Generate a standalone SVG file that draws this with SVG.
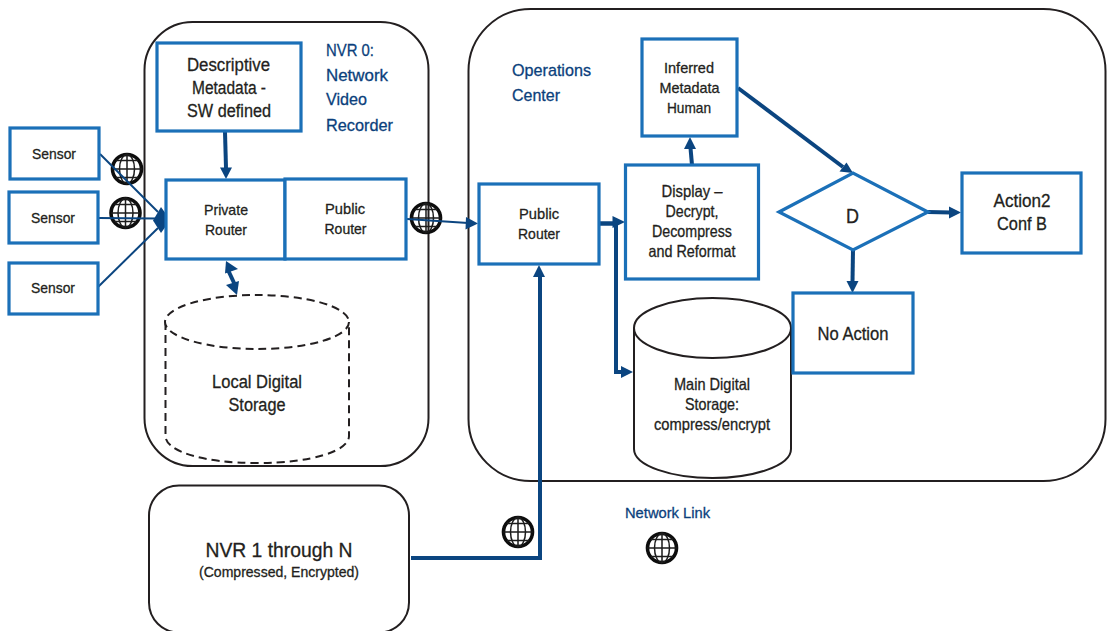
<svg xmlns="http://www.w3.org/2000/svg" xmlns:xlink="http://www.w3.org/1999/xlink" width="1110" height="631" viewBox="0 0 1110 631">
<style>
text{font-family:"Liberation Sans",Arial,sans-serif;fill:#231f20;text-anchor:middle;stroke:#231f20;stroke-width:0.3}
.s14{font-size:15px}.s16{font-size:16.5px}.s18{font-size:18px}
.hd{fill:#0b3f7c;stroke:#0b3f7c;text-anchor:start;font-size:17px}
.nl{fill:#0b3f7c;stroke:#0b3f7c;font-size:15px}
.box{fill:#fff;stroke:#1b70b8;stroke-width:3.2}
.cont{fill:#fff;stroke:#231f20;stroke-width:2}
.cyl{fill:#fff;stroke:#231f20;stroke-width:2}
.dash{fill:#fff;stroke:#231f20;stroke-width:2;stroke-dasharray:8 5}
.c{fill:none;stroke:#0b4580}
.a{fill:#0b4580;stroke:none}
.g{fill:none;stroke:#1c1c1c;stroke-width:1.5}
.gr{fill:none;stroke:#111;stroke-width:3.6}
</style>
<defs>
<filter id="bl" x="-20%" y="-20%" width="140%" height="140%"><feGaussianBlur stdDeviation="0.55"/></filter>
<g id="globe" filter="url(#bl)">
<circle r="14.500" class="gr"/>
<ellipse rx="7.500" ry="14.500" class="g"/>
<path class="g" d="M0-14.500V14.500M-14.500 0H14.500M-11-8.500H11M-11 8.500H11"/>
</g>
</defs>

<g id="nvr0-container"><rect class="cont" x="144.500" y="22" width="284" height="444" rx="48"/></g>
<g id="ops-container"><rect class="cont" x="468.500" y="9" width="637" height="472" rx="62"/></g>

<g id="globes">
<use xlink:href="#globe" href="#globe" transform="translate(127,169)"/>
<use xlink:href="#globe" href="#globe" transform="translate(125.500,213)"/>
<use xlink:href="#globe" href="#globe" transform="translate(426,218)"/>
<use xlink:href="#globe" href="#globe" transform="translate(518,532)"/>
<use xlink:href="#globe" href="#globe" transform="translate(662,548)"/>
</g>

<g id="connectors">
<path class="c" stroke-width="2" d="M100 154L158 212"/>
<path class="c" stroke-width="2" d="M99 218L156 218.500"/>
<path class="c" stroke-width="2" d="M98 287L158 228"/>
<path class="a" d="M161 207L166 214V226L161 233L153 220.500Z"/>
<path class="c" stroke-width="4" d="M225 132L226 168"/>
<path class="a" d="M226 179L220 167.500H232Z"/>
<path class="c" stroke-width="4" d="M228.500 271L235 285"/>
<path class="a" d="M226 261L238 269L225 273.500Z"/>
<path class="a" d="M237 295L226 285L239 281Z"/>
<path class="c" stroke-width="2" d="M407 219L468 223"/>
<path class="a" d="M478 223.500L465.500 229.500L466 217Z"/>
<path class="c" stroke-width="4" d="M411 558H540V276"/>
<path class="a" d="M539 265L545 277H533Z"/>
<path class="c" stroke-width="4.500" d="M600 223.500H615"/>
<path class="a" d="M625 222L612.500 228V216Z"/>
<path class="c" stroke-width="4" d="M616 224V372H623"/>
<path class="a" d="M633 372L621 378V366Z"/>
<path class="c" stroke-width="4" d="M692 165L690.500 148"/>
<path class="a" d="M690 137L696 149H684Z"/>
<path class="c" stroke-width="4" d="M738 88L843 167"/>
<path class="a" d="M853 173L839.500 171.500L846.500 162.500Z"/>
<path class="c" stroke-width="4" d="M928 212L951 212.500"/>
<path class="a" d="M961 212.500L949 218.500V206.500Z"/>
<path class="c" stroke-width="4" d="M853 250L852.500 282"/>
<path class="a" d="M852.500 293L846.500 281H858.500Z"/>
</g>

<g id="sensor-1"><rect class="box" x="10" y="128" width="89" height="51"/><text class="s14" x="54" y="159" textLength="44" lengthAdjust="spacingAndGlyphs">Sensor</text></g>
<g id="sensor-2"><rect class="box" x="9" y="192" width="89" height="51"/><text class="s14" x="53" y="223" textLength="44" lengthAdjust="spacingAndGlyphs">Sensor</text></g>
<g id="sensor-3"><rect class="box" x="9" y="263" width="89" height="51"/><text class="s14" x="53" y="293" textLength="44" lengthAdjust="spacingAndGlyphs">Sensor</text></g>

<g id="descriptive-metadata"><rect class="box" x="157" y="43" width="144" height="88"/>
<text class="s18" x="228.500" y="71" textLength="83" lengthAdjust="spacingAndGlyphs">Descriptive</text>
<text class="s18" x="229" y="94" textLength="74" lengthAdjust="spacingAndGlyphs">Metadata -</text>
<text class="s18" x="229" y="117" textLength="84" lengthAdjust="spacingAndGlyphs">SW defined</text></g>

<g id="nvr0-label">
<text class="hd" x="326" y="56" textLength="48" lengthAdjust="spacingAndGlyphs">NVR 0:</text>
<text class="hd" x="326" y="81" textLength="62" lengthAdjust="spacingAndGlyphs">Network</text>
<text class="hd" x="326" y="105" textLength="41" lengthAdjust="spacingAndGlyphs">Video</text>
<text class="hd" x="326" y="131" textLength="67" lengthAdjust="spacingAndGlyphs">Recorder</text></g>

<g id="private-router"><rect class="box" x="166" y="180" width="119" height="79"/>
<text class="s14" x="226" y="215" textLength="44" lengthAdjust="spacingAndGlyphs">Private</text>
<text class="s14" x="226" y="235" textLength="42" lengthAdjust="spacingAndGlyphs">Router</text></g>
<g id="public-router-a"><rect class="box" x="285" y="179" width="121" height="80"/>
<text class="s14" x="345" y="214" textLength="40" lengthAdjust="spacingAndGlyphs">Public</text>
<text class="s14" x="345.500" y="234" textLength="42" lengthAdjust="spacingAndGlyphs">Router</text></g>

<g id="local-storage">
<path class="dash" d="M165.500 322V436C165.500 451 202 463 257 463S349 451 349 436V322"/>
<ellipse class="dash" cx="257" cy="322" rx="92" ry="27"/>
<text class="s18" x="257" y="388" textLength="90" lengthAdjust="spacingAndGlyphs">Local Digital</text>
<text class="s18" x="257" y="411" textLength="57" lengthAdjust="spacingAndGlyphs">Storage</text></g>

<g id="ops-label">
<text class="hd" x="512" y="76" textLength="79" lengthAdjust="spacingAndGlyphs">Operations</text>
<text class="hd" x="512" y="101" textLength="48" lengthAdjust="spacingAndGlyphs">Center</text></g>

<g id="public-router-b"><rect class="box" x="479" y="184" width="120" height="80"/>
<text class="s14" x="539" y="219" textLength="40" lengthAdjust="spacingAndGlyphs">Public</text>
<text class="s14" x="539" y="239" textLength="42" lengthAdjust="spacingAndGlyphs">Router</text></g>

<g id="inferred-metadata"><rect class="box" x="642" y="39" width="95" height="97"/>
<text class="s14" x="689" y="73" textLength="50" lengthAdjust="spacingAndGlyphs">Inferred</text>
<text class="s14" x="689.500" y="93" textLength="60" lengthAdjust="spacingAndGlyphs">Metadata</text>
<text class="s14" x="689" y="113" textLength="44" lengthAdjust="spacingAndGlyphs">Human</text></g>

<g id="display"><rect class="box" x="625.500" y="165" width="133" height="114"/>
<text class="s16" x="692" y="197" textLength="61" lengthAdjust="spacingAndGlyphs">Display –</text>
<text class="s16" x="692" y="217" textLength="53" lengthAdjust="spacingAndGlyphs">Decrypt,</text>
<text class="s16" x="692" y="237" textLength="80" lengthAdjust="spacingAndGlyphs">Decompress</text>
<text class="s16" x="692" y="257" textLength="87" lengthAdjust="spacingAndGlyphs">and Reformat</text></g>

<g id="main-storage">
<path class="cyl" d="M634 328V449C634 466 672 478 712.500 478S791 466 791 449V328"/>
<ellipse class="cyl" cx="712.500" cy="328" rx="78.500" ry="30"/>
<text class="s16" x="712" y="390" textLength="76" lengthAdjust="spacingAndGlyphs">Main Digital</text>
<text class="s16" x="712" y="410" textLength="54" lengthAdjust="spacingAndGlyphs">Storage:</text>
<text class="s16" x="712" y="430" textLength="116" lengthAdjust="spacingAndGlyphs">compress/encrypt</text></g>

<g id="decision-d"><path class="box" d="M779 212L853 173L928 212L853 250Z"/>
<text x="852.500" y="223" font-size="20" textLength="13" lengthAdjust="spacingAndGlyphs">D</text></g>

<g id="action2"><rect class="box" x="962" y="173" width="119" height="80"/>
<text class="s18" x="1022" y="207" textLength="57" lengthAdjust="spacingAndGlyphs">Action2</text>
<text class="s18" x="1022" y="230" textLength="50" lengthAdjust="spacingAndGlyphs">Conf B</text></g>

<g id="no-action"><rect class="box" x="793" y="293" width="120" height="80"/>
<text class="s18" x="853" y="340" textLength="71" lengthAdjust="spacingAndGlyphs">No Action</text></g>

<g id="nvr-1-n"><rect x="149" y="485.500" width="260" height="147" rx="30" fill="#fff" stroke="#231f20" stroke-width="2"/>
<text x="279" y="557" font-size="20.500" textLength="147" lengthAdjust="spacingAndGlyphs">NVR 1 through N</text>
<text x="279" y="577" font-size="14.500" textLength="160" lengthAdjust="spacingAndGlyphs">(Compressed, Encrypted)</text></g>

<g id="network-link-label"><text class="nl" x="667.500" y="518" textLength="85" lengthAdjust="spacingAndGlyphs">Network Link</text></g>
</svg>
